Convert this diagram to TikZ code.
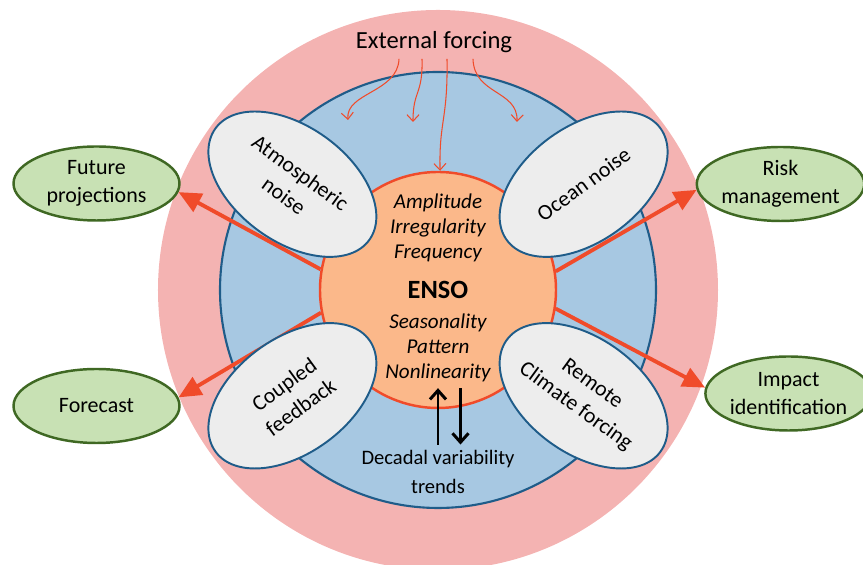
\documentclass[tikz,border=0pt]{standalone}
\usepackage{fontspec}
\setmainfont{Carlito}
\usetikzlibrary{arrows.meta, positioning, shapes.geometric}
\definecolor{enpink}{HTML}{F4B3B2}
\definecolor{enblue}{HTML}{A7C8E2}
\definecolor{endarkblue}{HTML}{1F5C89}
\definecolor{enorange}{HTML}{FBB88A}
\definecolor{enred}{HTML}{F04B2A}
\definecolor{engray}{HTML}{EDEDED}
\definecolor{engreen}{HTML}{C8E1B4}
\definecolor{endarkgreen}{HTML}{3F6823}

\begin{document}
\begin{tikzpicture}[
  every node/.style={font=\fontsize{12.5}{16}\selectfont},
  process/.style={ellipse, draw=endarkblue, fill=engray, line width=1.1pt, minimum width=3.8cm, minimum height=2.3cm, align=center, inner sep=0pt},
  outcome/.style={ellipse, draw=endarkgreen, fill=engreen, line width=1.4pt, minimum width=3.32cm, minimum height=1.48cm, align=center, inner sep=0pt},
  props/.style={align=center, font=\fontsize{12}{14.2}\selectfont\itshape},
  outarrow/.style={-{Triangle[length=4.5mm, width=4mm]}, enred, line width=2.2pt},
  forcing/.style={-{Straight Barb[length=1.3mm, width=2.4mm]}, enred, line width=0.6pt},
  feedbk/.style={-{Straight Barb[length=1.8mm, width=3.2mm]}, black, line width=1.7pt},
]
\useasboundingbox (-8.76,-5.5) rectangle (8.5,5.8);
\clip (-8.76,-5.5) rectangle (8.5,5.8);

% Rings
\fill[enpink] (0,0) circle (5.6);
\draw[endarkblue, fill=enblue, line width=1.2pt] (0,0) circle (4.36);
\node[circle, draw=enred, fill=enorange, line width=1.4pt, minimum size=4.72cm, font=\fontsize{15}{17}\selectfont\bfseries] (enso) at (0,0) {ENSO};

% ENSO properties
\node[props] (upper) at (0,1.24) {Amplitude\\Irregularity\\Frequency};
\node[props] (lower) at (0,-1.16) {Seasonality\\Pattern\\Nonlinearity};

% Outcomes
\node[outcome] (future) at (-6.83,2.13) {Future\\projections};
\node[outcome] (forecast) at (-6.83,-2.32) {Forecast};
\node[outcome] (risk) at (6.85,2.12) {Risk\\management};
\node[outcome] (impact) at (7.01,-2.07) {Impact\\identification};

\draw[outarrow] (enso.170) -- (future.-6);
\draw[outarrow] (enso.191) -- (forecast.6);
\draw[outarrow] (enso.9) -- (risk.184);
\draw[outarrow] (enso.-9) -- (impact.176);

% Processes
\node[process, rotate=-36] (atmos) at (144:3.6) {Atmospheric\\noise};
\node[process, rotate=36] (ocean) at (36:3.6) {Ocean noise};
\node[process, rotate=36] (coupled) at (216:3.6) {Coupled\\feedback};
\node[process, rotate=-36] (remote) at (-36:3.6) {Remote\\Climate forcing};

% External forcing
\node[font=\fontsize{14}{16}\selectfont] (ext) at (-0.08,4.96) {External forcing};
\coordinate (f1) at (-1.8,3.4);
\coordinate (f2) at (-0.5,3.36);
\coordinate (f4) at (1.58,3.36);
\draw[forcing] ([xshift=-0.7cm]ext.south) .. controls (-0.8,3.95) and (-1.85,3.95) .. (f1);
\draw[forcing] ([xshift=-0.24cm]ext.south) .. controls (-0.3,3.9) and (-0.5,4.0) .. (f2);
\draw[forcing] ([xshift=0.26cm]ext.south) .. controls (0.2,3.4) and (0.02,3.4) .. (enso.89);
\draw[forcing] ([xshift=0.78cm]ext.south) .. controls (0.72,3.9) and (1.6,4.0) .. (f4);

% Decadal
\node[align=center, font=\fontsize{11.7}{16}\selectfont] (decadal) at (0,-3.64) {Decadal variability\\trends};
\draw[feedbk] (decadal.north) -- (lower.south);
\draw[feedbk] ([xshift=0.45cm]lower.south) -- ([xshift=0.45cm]decadal.north);

\end{tikzpicture}
\end{document}
